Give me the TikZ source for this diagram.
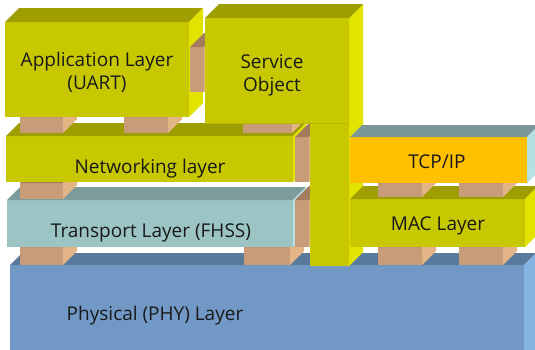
\documentclass[tikz,border=0pt]{standalone}
\usepackage{fontspec}
\setmainfont{Open Sans}
\definecolor{olivefront}{HTML}{C8C800}
\definecolor{olivetop}{HTML}{9E9E00}
\definecolor{oliveright}{HTML}{E3E300}
\definecolor{padfront}{HTML}{C89C78}
\definecolor{padtop}{HTML}{A27C5C}
\definecolor{padright}{HTML}{E2B486}
\definecolor{transfront}{HTML}{9CC4C4}
\definecolor{transtop}{HTML}{7C9C9C}
\definecolor{transright}{HTML}{B6E2E2}
\definecolor{phyfront}{HTML}{7299C6}
\definecolor{phytop}{HTML}{5A7A9C}
\definecolor{phyright}{HTML}{84B4E2}
\definecolor{tcpfront}{HTML}{FFC000}
\definecolor{tcptop}{HTML}{7A9898}
\definecolor{tcpright}{HTML}{B4E2E2}
% x1 y1 x2 y2 depth front top right
\newcommand\cubebox[8]{%
  \fill[#6] (#1,#2) rectangle (#3,#4);
  \fill[#7] (#1,#2) -- (#3,#2) -- (#3+#5,#2-#5) -- (#1+#5,#2-#5) -- cycle;
  \fill[#8] (#3,#2) -- (#3,#4) -- (#3+#5,#4-#5) -- (#3+#5,#2-#5) -- cycle;
}
\newcommand\padbox[4]{\cubebox{#1}{#2}{#3}{#4}{14}{padfront}{padtop}{padright}}
\begin{document}
\begin{tikzpicture}[x=1pt,y=-1pt,
  lbl/.style={font=\fontsize{19}{23}\selectfont, text=black!90, inner sep=0pt, anchor=base}]
\clip (0,0) rectangle (535,349);
\fill[white] (0,0) rectangle (535,349);
% physical layer
\cubebox{10}{265}{524}{362}{12}{phyfront}{phytop}{phyright}
% pads on physical
\padbox{20}{247}{63}{265}
\padbox{244}{247}{290}{265}
\padbox{378}{247}{422}{265}
\padbox{459}{247}{503}{265}
% transport layer
\cubebox{7}{200}{293}{247}{13}{transfront}{transtop}{transright}
\padbox{295}{200}{309}{247}
% pad networking/transport
\padbox{20}{183}{63}{199}
% networking layer
\cubebox{6}{136}{293}{182}{13}{olivefront}{olivetop}{oliveright}
\padbox{295}{137}{309}{182}
% pads on networking
\padbox{20}{117}{63}{133}
\padbox{124}{117}{168}{133}
\padbox{243}{117}{292}{133}
% application layer
\cubebox{5}{22}{189}{117}{14}{olivefront}{olivetop}{oliveright}
\padbox{190}{47}{204}{92}
% service object with pillar
\fill[oliveright] (349,18) -- (363,4) -- (363,252) -- (349,266) -- cycle;
\fill[olivetop] (205,18) -- (349,18) -- (363,4) -- (219,4) -- cycle;
\fill[olivefront] (205,18) -- (349,18) -- (349,266) -- (310,266) -- (310,123) -- (205,123) -- cycle;
\draw[olivefront!92!black, line width=0.6pt] (205,123) -- (349,123);
% MAC layer
\cubebox{350}{199}{525}{247}{13}{olivefront}{olivetop}{oliveright}
\padbox{378}{183}{422}{197}
\padbox{459}{183}{503}{197}
% TCP/IP
\cubebox{350}{137}{527}{183}{12}{tcpfront}{tcptop}{tcpright}
% labels
\node[lbl] (app1) at (97,66) {Application Layer};
\node[lbl] (app2) at (97,89) {(UART)};
\node[lbl] (svc1) at (272,68) {Service};
\node[lbl] (svc2) at (272,91) {Object};
\node[lbl] (net) at (150,173) {Networking layer};
\node[lbl] (trans) at (151,237) {Transport Layer (FHSS)};
\node[lbl] (phy) at (155,320) {Physical (PHY) Layer};
\node[lbl] (tcp) at (437,168) {TCP/IP};
\node[lbl] (mac) at (438,230) {MAC Layer};
\end{tikzpicture}
\end{document}
